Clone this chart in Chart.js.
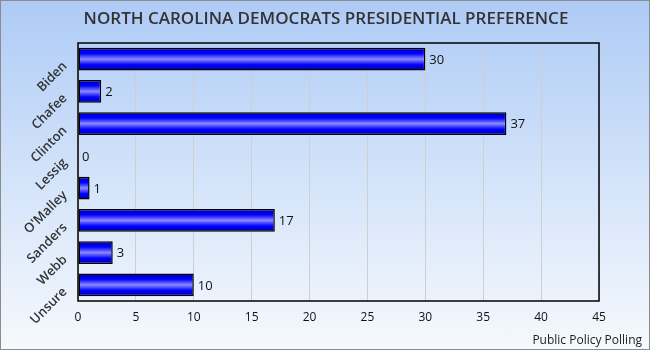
<!DOCTYPE html>
<html><head><meta charset="utf-8">
<script src="https://cdn.jsdelivr.net/npm/chart.js@4/dist/chart.umd.min.js"></script>
<style>
html,body{margin:0;padding:0;}
#wrap{position:relative;width:648px;height:348px;border:1px solid #8c8c8c;background:linear-gradient(to bottom,#aecbf6 0%,#d6e5fa 55%,#f6f9fd 100%);}
canvas{display:block;}
</style></head><body>
<div id="wrap"><canvas id="c" width="648" height="348"></canvas></div>
<script>
const categories = ["Biden","Chafee","Clinton","Lessig","O'Malley","Sanders","Webb","Unsure"];
const values = [30,2,37,0,1,17,3,10];
const xTicks = [0,5,10,15,20,25,30,35,40,45];
const titleText = "NORTH CAROLINA DEMOCRATS PRESIDENTIAL PREFERENCE";
const sourceText = "Public Policy Polling";

const gradPlugin = {
  id:'grad',
  beforeDatasetsDraw(chart){
    const ctx = chart.ctx;
    chart.getDatasetMeta(0).data.forEach(el=>{
      const h = el.height, top = el.y - h/2;
      const g = ctx.createLinearGradient(0, top, 0, top+h);
      g.addColorStop(0,'#0000a8');
      g.addColorStop(0.25,'#0000ff');
      g.addColorStop(0.5,'#8c8cff');
      g.addColorStop(0.75,'#0000ff');
      g.addColorStop(1,'#0000a8');
      el.options = Object.assign({}, el.options, {backgroundColor: g});
    });
  },
  afterDatasetsDraw(chart){
    const ctx = chart.ctx;
    ctx.save();
    ctx.font = '13px "Open Sans"';
    ctx.fillStyle = '#111';
    ctx.textBaseline = 'middle';
    ctx.textAlign = 'left';
    chart.getDatasetMeta(0).data.forEach((el,i)=>{
      ctx.fillText(String(values[i]), el.x + 4, el.y + 1);
    });
    ctx.restore();
  },
  afterDraw(chart){
    const ctx = chart.ctx;
    ctx.save();
    ctx.font = '600 17px "Open Sans"';
    ctx.fillStyle = '#333';
    ctx.textAlign = 'center';
    ctx.textBaseline = 'middle';
    ctx.fillText(titleText, 325, 18);
    ctx.font = '12px "Open Sans"';
    ctx.fillStyle = '#222';
    ctx.textAlign = 'right';
    ctx.fillText(sourceText, 641, 340);
    const a = chart.chartArea;
    ctx.strokeStyle = '#000';
    ctx.lineWidth = 1.5;
    ctx.strokeRect(a.left, a.top, a.right-a.left, a.bottom-a.top);
    ctx.restore();
  }
};

new Chart(document.getElementById('c'), {
  type:'bar',
  data:{labels:categories, datasets:[{data:values, borderColor:'#000', borderWidth:1.5, borderSkipped:false, categoryPercentage:1, barPercentage:0.7}]},
  options:{
    indexAxis:'y', responsive:false, animation:false,
    layout:{padding:{left:0,right:50,top:42,bottom:0}},
    plugins:{ legend:{display:false}, tooltip:{enabled:false}, title:{display:false} },
    scales:{
      x:{min:0,max:45, afterBuildTicks(s){s.ticks = xTicks.map(v=>({value:v}));},
         afterFit(s){s.height=48;},
         grid:{color:'#cfcfcf', drawTicks:false, lineWidth:1},
         border:{display:false},
         ticks:{padding:9, color:'#111', font:{family:'"Open Sans"', size:12}}},
      y:{afterFit(s){s.width=77;},
         grid:{display:false}, border:{display:false},
         ticks:{minRotation:45, maxRotation:45, padding:5, labelOffset:5, color:'#333', font:{family:'"Open Sans"', size:13, weight:'600'}}}
    }
  },
  plugins:[gradPlugin]
});
</script>
</body></html>
